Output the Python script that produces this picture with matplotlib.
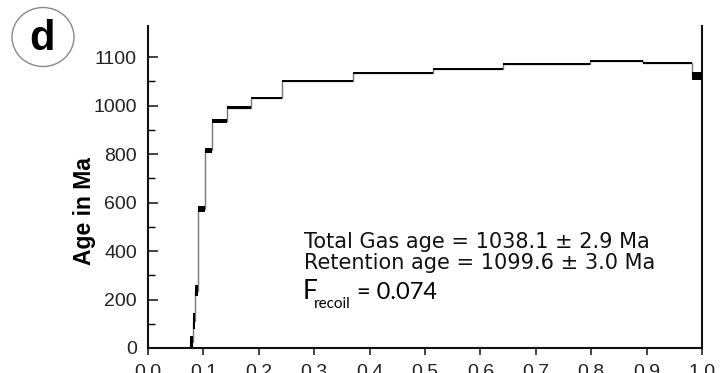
import numpy as np
from matplotlib import pyplot as plt
from matplotlib.patches import Ellipse

# ------------------------------------------------------------------
# Step-heating data: cumulative fraction edges, apparent age, half error
# ------------------------------------------------------------------
frac_edges = [0.076, 0.081, 0.085, 0.090, 0.103, 0.116, 0.143, 0.186,
              0.242, 0.370, 0.514, 0.641, 0.798, 0.894, 0.982, 1.0]
step_age = [25, 111, 237, 573, 815, 936, 990, 1031,
            1101, 1134, 1150, 1171, 1183, 1175, 1121]
step_err = [25, 33, 23, 13, 10, 8, 6, 5,
            5, 6, 5, 3, 3, 5, 16]

x_ticks = [0.0, 0.1, 0.2, 0.3, 0.4, 0.5, 0.6, 0.7, 0.8, 0.9, 1.0]
x_labels = ["0.0", "0.1", "0.2", "0.3", "0.4", "0.5", "0.6", "0.7", "0.8", "0.9", "1.0"]
y_ticks = [0, 200, 400, 600, 800, 1000, 1200]
y_labels = ["0", "200", "400", "600", "800", "1000", "1100"]

text_lines = ["Total Gas age = 1038.1 \u00b1 2.9 Ma",
              "Retention age = 1099.6 \u00b1 3.0 Ma"]

plt.rcParams["font.family"] = ["Liberation Sans", "DejaVu Sans"]

fig = plt.figure(figsize=(7.23, 3.73), dpi=100)
ax = fig.add_axes([148 / 723, 1 - 348 / 373, 554 / 723, 322 / 373])

edges = np.asarray(frac_edges)
ages = np.asarray(step_age, float)
errs = np.asarray(step_err, float)

# thin connecting step line
ax.stairs(ages, edges, baseline=0, color="#777777", linewidth=1.0, zorder=2)
# plateau lines and error boxes
ax.hlines(ages, edges[:-1], edges[1:], color="black", linewidth=1.4, zorder=3)
ax.bar(edges[:-1], 2 * errs, bottom=ages - errs, width=np.diff(edges),
       align="edge", color="black", linewidth=0, zorder=3)

ax.set_xlim(0, 1.0)
ax.set_ylim(0, 1328)

ax.set_xticks(x_ticks)
ax.set_xticklabels(x_labels)
ax.set_yticks(y_ticks)
ax.set_yticklabels(y_labels)
ax.set_yticks(np.arange(100, 1200, 200), minor=True)

ax.tick_params(axis="x", direction="out", length=5, width=1.2,
               labelsize=14, pad=6.5, colors="#222222")
ax.tick_params(axis="y", which="major", direction="in", length=7, width=1.2,
               labelsize=14, pad=8, colors="#222222")
ax.tick_params(axis="y", which="minor", direction="in", length=5, width=1.0)

ax.spines["top"].set_visible(False)
for side in ("left", "right", "bottom"):
    ax.spines[side].set_linewidth(1.5)
    ax.spines[side].set_color("#111111")

fig.text(84 / 723, 1 - 211 / 373, "Age in Ma", rotation=90, ha="center",
         va="center", fontsize=16.5, fontweight="bold")

# annotation block
ax.text(0.282, 412, text_lines[0], fontsize=15, family="DejaVu Sans",
        va="baseline", ha="left", color="#111111")
ax.text(0.282, 326, text_lines[1], fontsize=15, family="DejaVu Sans",
        va="baseline", ha="left", color="#111111")
ax.text(0.280, 202, "F", fontsize=19, family="Lato", va="baseline", ha="left")
ax.text(0.300, 165, "recoil", fontsize=11, family="Lato", va="baseline", ha="left")
ax.text(0.377, 202, "= 0.074", fontsize=17, family="Lato", va="baseline", ha="left")

# panel label
fig.patches.append(Ellipse((43 / 723, 1 - 37 / 373), 62 / 723, 59 / 373,
                           transform=fig.transFigure, fill=False,
                           edgecolor="#888888", linewidth=1.0))
fig.text(42 / 723, 1 - 39 / 373, "d", fontsize=30, fontweight="bold",
         ha="center", va="center")

fig.savefig("out.png", dpi=100)
